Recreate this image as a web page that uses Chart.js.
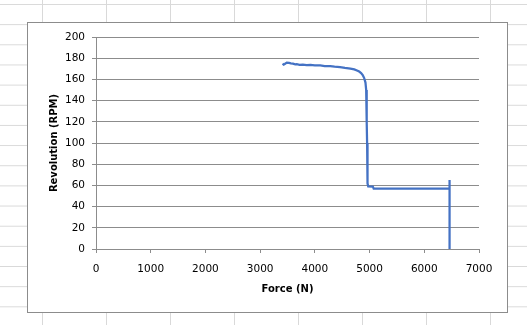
<!DOCTYPE html>
<html>
<head>
<meta charset="utf-8">
<script src="https://cdn.jsdelivr.net/npm/chart.js@4/dist/chart.umd.min.js"></script>
<style>
  html, body { margin:0; padding:0; width:527px; height:325px; overflow:hidden; }
  body {
    background-color:#ffffff;
    background-image:
      linear-gradient(to right, #d9d9d9 1px, transparent 1px),
      linear-gradient(to bottom, #d9d9d9 1px, transparent 1px);
    background-size: 64px 100%, 100% 20.17px;
    background-position: 42px 0, 0 4px;
    position:relative;
  }
  #box { position:absolute; left:27px; top:22px; width:481px; height:291px; box-sizing:border-box;
         background:#fff; border:1px solid #8c8c8c; }
  #c { position:absolute; left:0; top:0; }
</style>
</head>
<body>
<div id="box"></div>
<canvas id="c" width="527" height="325"></canvas>
<script>
// Force (N) values and matching revolution (RPM) values
const forceN = [3410, 3430, 3450, 3487, 3530, 3560, 3600, 3640, 3670, 3720, 3780, 3850, 3920, 4000, 4100, 4180, 4280, 4360, 4460, 4550, 4650, 4720, 4770, 4810, 4845, 4875, 4900, 4925, 4938, 4945, 4950, 4955, 4960, 4965, 4975, 5060, 5075, 6462, 6462, 6462];
const revRPM = [174.8, 174.0, 174.5, 175.8, 175.6, 175.2, 174.8, 174.2, 174.4, 173.8, 174.0, 173.5, 173.6, 173.2, 173.3, 172.6, 172.5, 172.0, 171.5, 170.8, 170.2, 169.4, 168.4, 167.4, 166.0, 164.0, 161.5, 157.0, 150.0, 140.0, 120.0, 100.0, 80.0, 62.0, 59.0, 58.8, 57.0, 57.0, 65.0, 0];
const xTicks = [0, 1000, 2000, 3000, 4000, 5000, 6000, 7000];
const yTicks = [0, 20, 40, 60, 80, 100, 120, 140, 160, 180, 200];
const xTitle = 'Force (N)';
const yTitle = 'Revolution (RPM)';

const points = forceN.map((f, i) => ({ x: f, y: revRPM[i] }));
const axisGray = '#8c8c8c';
const tickFont = { family: 'DejaVu Sans', size: 10.5 };
const titleFont = { family: 'DejaVu Sans', size: 10, weight: 'bold' };

new Chart(document.getElementById('c'), {
  type: 'scatter',
  data: {
    datasets: [{
      data: points,
      showLine: true,
      borderColor: '#4472C4',
      backgroundColor: '#4472C4',
      borderWidth: 2.25,
      pointRadius: 0,
      tension: 0
    }]
  },
  options: {
    responsive: false,
    animation: false,
    layout: { padding: { left: 48, top: 37, right: 48, bottom: 30 } },
    plugins: { legend: { display: false }, tooltip: { enabled: false } },
    scales: {
      x: {
        type: 'linear', min: xTicks[0], max: xTicks[xTicks.length - 1],
        afterBuildTicks: s => { s.ticks = xTicks.map(v => ({ value: v })); },
        ticks: { color: '#000', font: tickFont, padding: 10, maxRotation: 0, callback: v => String(v) },
        grid: { drawOnChartArea: false, tickLength: 4, color: axisGray },
        border: { color: axisGray },
        title: { display: true, text: xTitle, color: '#000', font: titleFont, padding: 0 },
        afterFit: s => { s.height = 46; }
      },
      y: {
        type: 'linear', min: yTicks[0], max: yTicks[yTicks.length - 1],
        afterBuildTicks: s => { s.ticks = yTicks.map(v => ({ value: v })); },
        ticks: { color: '#000', font: tickFont, padding: 7, callback: v => String(v) },
        grid: { tickLength: 4, color: axisGray },
        border: { color: axisGray },
        title: { display: true, text: yTitle, color: '#000', font: titleFont, padding: 0 },
        afterFit: s => { s.width = 48; }
      }
    }
  }
});
</script>
</body>
</html>
